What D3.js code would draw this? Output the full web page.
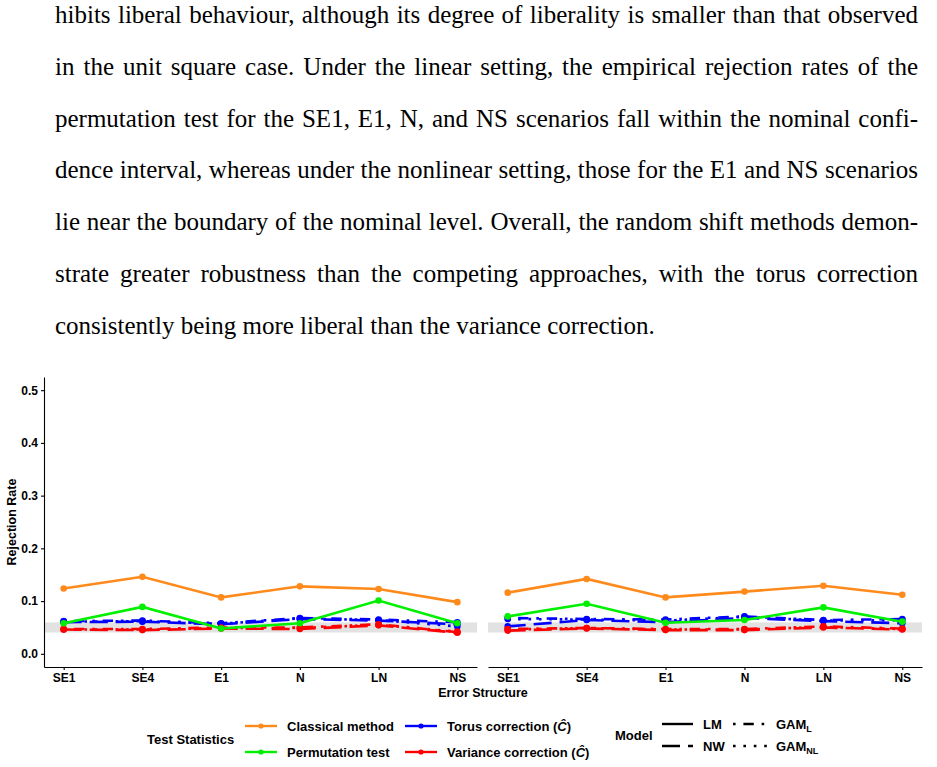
<!DOCTYPE html>
<meta charset="utf-8">
<style>
    body {
        margin: 0;
        background: #fff;
    }

    #page {
        position: relative;
        width: 937px;
        height: 767px;
        overflow: hidden;
    }

    #para {
        position: absolute;
        left: 55px;
        top: -11px;
        width: 863px;
        font: 25px "Liberation Serif", "Times New Roman", serif;
        word-spacing: -1.5px;
        color: #000;
    }

    #para div {
        height: 51.8px;
        line-height: 51.8px;
        white-space: nowrap;
        text-align: justify;
        text-align-last: justify;
    }

    #para div.last {
        text-align-last: left;
        word-spacing: 0;
    }

    svg {
        position: absolute;
        left: 0;
        top: 0;
    }

    svg text {
        font-family: "Liberation Sans", Arial, sans-serif;
        font-weight: bold;
        fill: #000;
    }

    .axis text {
        font-size: 12px;
    }

    .axis path, .axis line {
        stroke: #000;
        stroke-width: 1.1;
    }

    path.series {
        fill: none;
        stroke-width: 2.6;
    }
</style>
<body>
<div id="page">
    <div id="para"></div>
</div>
<script src="https://d3js.org/d3.v7.min.js"></script>
<script>
    var paragraphLines = [
        "hibits liberal behaviour, although its degree of liberality is smaller than that observed",
        "in the unit square case. Under the linear setting, the empirical rejection rates of the",
        "permutation test for the SE1, E1, N, and NS scenarios fall within the nominal confi-",
        "dence interval, whereas under the nonlinear setting, those for the E1 and NS scenarios",
        "lie near the boundary of the nominal level. Overall, the random shift methods demon-",
        "strate greater robustness than the competing approaches, with the torus correction",
        "consistently being more liberal than the variance correction."
    ];

    var structures = ["SE1", "SE4", "E1", "N", "LN", "NS"];
    var yTickValues = [0, 0.1, 0.2, 0.3, 0.4, 0.5];
    var nominalBand = [0.0404, 0.0596];

    // linear setting (left panel)
    var linClassicalLM = [0.124, 0.146, 0.107, 0.128, 0.123, 0.098];
    var linPermutationLM = [0.058, 0.089, 0.048, 0.058, 0.101, 0.058];
    var linTorusNW = [0.060, 0.061, 0.056, 0.066, 0.063, 0.056];
    var linTorusGAML = [0.062, 0.063, 0.058, 0.068, 0.065, 0.060];
    var linTorusGAMNL = [0.061, 0.062, 0.057, 0.067, 0.064, 0.052];
    var linVarianceNW = [0.046, 0.045, 0.048, 0.047, 0.054, 0.040];
    var linVarianceGAML = [0.047, 0.047, 0.050, 0.050, 0.056, 0.041];
    var linVarianceGAMNL = [0.046, 0.046, 0.049, 0.049, 0.055, 0.042];

    // nonlinear setting (right panel)
    var nlClassicalLM = [0.116, 0.142, 0.107, 0.118, 0.129, 0.112];
    var nlPermutationLM = [0.071, 0.095, 0.059, 0.064, 0.088, 0.061];
    var nlTorusNW = [0.052, 0.064, 0.060, 0.068, 0.062, 0.058];
    var nlTorusGAML = [0.068, 0.066, 0.065, 0.071, 0.064, 0.066];
    var nlTorusGAMNL = [0.066, 0.065, 0.063, 0.070, 0.063, 0.064];
    var nlVarianceNW = [0.044, 0.048, 0.045, 0.045, 0.050, 0.046];
    var nlVarianceGAML = [0.047, 0.049, 0.047, 0.047, 0.052, 0.048];
    var nlVarianceGAMNL = [0.046, 0.049, 0.046, 0.046, 0.051, 0.047];

    var statLabels = ["Classical method", "Permutation test", "Torus correction", "Variance correction"];
    var modelLabels = ["LM", "NW", "GAM_L", "GAM_NL"];

    var statColor = {
        "Classical method": "#ff8a1c",
        "Permutation test": "#00f000",
        "Torus correction": "#0000ff",
        "Variance correction": "#ff0000"
    };
    var modelDash = {
        "LM": null,
        "NW": "18 8",
        "GAM_L": "2.6 7.8 10.4 7.8",
        "GAM_NL": "2.6 7.8"
    };

    var panels = [
        {range: [44, 477], series: [
            {stat: "Torus correction", model: "NW", values: linTorusNW},
            {stat: "Torus correction", model: "GAM_L", values: linTorusGAML},
            {stat: "Torus correction", model: "GAM_NL", values: linTorusGAMNL},
            {stat: "Variance correction", model: "NW", values: linVarianceNW},
            {stat: "Variance correction", model: "GAM_L", values: linVarianceGAML},
            {stat: "Variance correction", model: "GAM_NL", values: linVarianceGAMNL},
            {stat: "Classical method", model: "LM", values: linClassicalLM},
            {stat: "Permutation test", model: "LM", values: linPermutationLM}
        ]},
        {range: [488, 922], series: [
            {stat: "Torus correction", model: "NW", values: nlTorusNW},
            {stat: "Torus correction", model: "GAM_L", values: nlTorusGAML},
            {stat: "Torus correction", model: "GAM_NL", values: nlTorusGAMNL},
            {stat: "Variance correction", model: "NW", values: nlVarianceNW},
            {stat: "Variance correction", model: "GAM_L", values: nlVarianceGAML},
            {stat: "Variance correction", model: "GAM_NL", values: nlVarianceGAMNL},
            {stat: "Classical method", model: "LM", values: nlClassicalLM},
            {stat: "Permutation test", model: "LM", values: nlPermutationLM}
        ]}
    ];

    // paragraph above the figure
    d3.select("#para").selectAll("div")
            .data(paragraphLines)
        .enter().append("div")
            .attr("class", function (d, i) { return i === paragraphLines.length - 1 ? "last" : null; })
            .text(function (d) { return d; });

    var svg = d3.select("#page").append("svg")
            .attr("width", 937)
            .attr("height", 767);

    var y = d3.scaleLinear()
            .domain([-0.025, 0.525])
            .range([667, 377]);

    panels.forEach(function (panel, p) {
        var x = d3.scalePoint()
                .domain(structures)
                .range(panel.range)
                .padding(0.25);

        var g = svg.append("g").attr("class", "panel");

        g.append("rect")
                .attr("x", panel.range[0])
                .attr("width", panel.range[1] - panel.range[0])
                .attr("y", y(nominalBand[1]))
                .attr("height", y(nominalBand[0]) - y(nominalBand[1]))
                .attr("fill", "#e2e2e2");

        var line = d3.line()
                .x(function (d, i) { return x(structures[i]); })
                .y(function (d) { return y(d); });

        var s = g.selectAll("g.s")
                .data(panel.series)
            .enter().append("g")
                .attr("class", "s");

        s.append("path")
                .attr("class", "series")
                .attr("d", function (d) { return line(d.values); })
                .attr("stroke", function (d) { return statColor[d.stat]; })
                .attr("stroke-dasharray", function (d) { return modelDash[d.model]; });

        s.selectAll("circle")
                .data(function (d) { return d.values.map(function (v, i) { return {v: v, i: i, stat: d.stat}; }); })
            .enter().append("circle")
                .attr("cx", function (d) { return x(structures[d.i]); })
                .attr("cy", function (d) { return y(d.v); })
                .attr("r", 3.3)
                .attr("fill", function (d) { return statColor[d.stat]; });

        g.append("g")
                .attr("class", "x axis")
                .attr("transform", "translate(0,667)")
                .call(d3.axisBottom(x).tickSize(3).tickSizeOuter(0).tickPadding(3));

        if (p === 0) {
            g.append("g")
                    .attr("class", "y axis")
                    .attr("transform", "translate(44,0)")
                    .call(d3.axisLeft(y).tickValues(yTickValues).tickFormat(d3.format(".1f"))
                        .tickSize(3).tickSizeOuter(0).tickPadding(3));
        }
    });

    svg.append("text")
            .attr("x", 483)
            .attr("y", 697)
            .attr("text-anchor", "middle")
            .style("font-size", "12.5px")
            .text("Error Structure");

    svg.append("text")
            .attr("transform", "translate(16,522) rotate(-90)")
            .attr("text-anchor", "middle")
            .style("font-size", "12.5px")
            .text("Rejection Rate");

    // legend: test statistics
    var leg = svg.append("g").attr("class", "legend");
    leg.append("text")
            .attr("x", 147)
            .attr("y", 743.5)
            .style("font-size", "13px")
            .text("Test Statistics");

    var statItems = leg.selectAll("g.stat")
            .data(statLabels)
        .enter().append("g")
            .attr("class", "stat")
            .attr("transform", function (d, i) {
                return "translate(" + (i < 2 ? 245 : 405) + "," + (i % 2 === 0 ? 726 : 752) + ")";
            });
    statItems.append("line")
            .attr("x1", 0).attr("x2", 32)
            .attr("stroke", function (d) { return statColor[d]; })
            .attr("stroke-width", 2.4);
    statItems.append("circle")
            .attr("cx", 16)
            .attr("r", 2.6)
            .attr("fill", function (d) { return statColor[d]; });
    var statText = statItems.append("text")
            .attr("x", 42)
            .attr("y", 4.5)
            .style("font-size", "13px")
            .text(function (d) { return d; });
    statText.filter(function (d, i) { return i >= 2; })
            .each(function () {
                var t = d3.select(this);
                t.append("tspan").text(" (");
                t.append("tspan").style("font-style", "italic").text("\u0108");
                t.append("tspan").text(")");
            });

    // legend: model
    leg.append("text")
            .attr("x", 615)
            .attr("y", 739.5)
            .style("font-size", "13px")
            .text("Model");

    var modelItems = leg.selectAll("g.model")
            .data(modelLabels)
        .enter().append("g")
            .attr("class", "model")
            .attr("transform", function (d, i) {
                return "translate(" + (i < 2 ? 662 : 733) + "," + (i % 2 === 0 ? 724 : 746) + ")";
            });
    modelItems.append("line")
            .attr("x1", 0).attr("x2", function (d, i) { return i < 2 ? 31 : 34; })
            .attr("stroke", "#000")
            .attr("stroke-width", 2.4)
            .attr("stroke-dasharray", function (d) { return modelDash[d]; });
    modelItems.append("text")
            .attr("x", function (d, i) { return i < 2 ? 41 : 43; })
            .attr("y", 4.5)
            .style("font-size", "13px")
            .each(function (d) {
                var parts = d.split("_");
                var t = d3.select(this);
                t.append("tspan").text(parts[0]);
                if (parts[1]) {
                    t.append("tspan")
                            .attr("dy", 3)
                            .style("font-size", "9px")
                            .text(parts[1]);
                }
            });
</script>
</body>
